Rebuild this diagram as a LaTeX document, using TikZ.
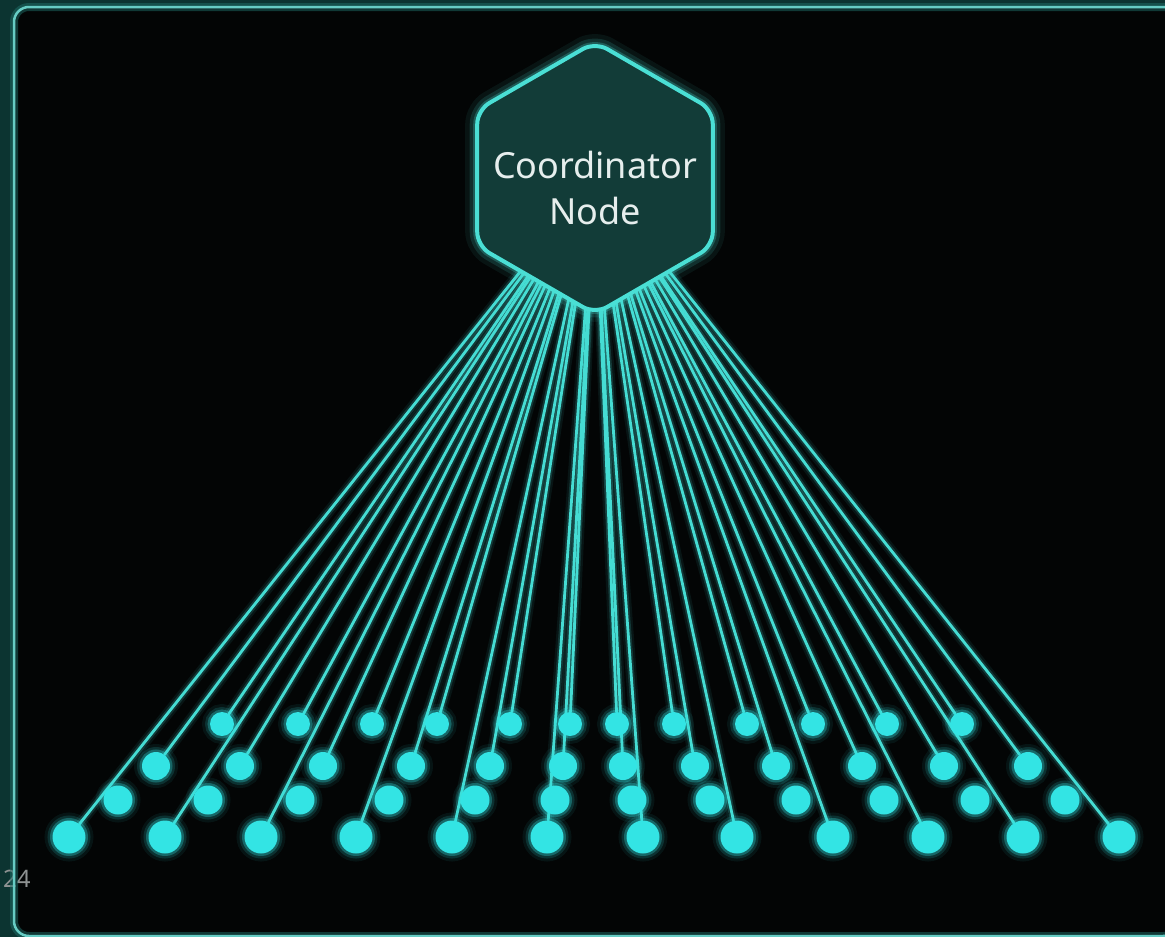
\documentclass[tikz,border=0pt]{standalone}
\usepackage{fontspec}
\newfontfamily\labelfont{Noto Sans}
\usetikzlibrary{shapes.geometric}

\definecolor{outer}{HTML}{0C3431}
\definecolor{panel}{HTML}{030505}
\definecolor{rim}{HTML}{66CCC4}
\definecolor{rimglow}{HTML}{1E6E68}
\definecolor{wire}{HTML}{45DCD3}
\definecolor{dot}{HTML}{33E4E4}
\definecolor{hexfill}{HTML}{123C38}
\definecolor{hexline}{HTML}{4ADFD5}
\definecolor{captioncol}{HTML}{E6EEED}
\definecolor{pagenum}{HTML}{8E9292}

\pgfdeclarelayer{back}
\pgfdeclarelayer{wires}
\pgfsetlayers{back,wires,main}

\tikzset{
  wirestyle/.style={draw=wire, line width=2.8pt, line cap=round,
    preaction={draw=wire, line width=11pt, opacity=0.08},
    preaction={draw=wire, line width=6.5pt, opacity=0.18}},
  dotbase/.style={circle, fill=dot, draw=none, inner sep=0pt, minimum size=#1,
    preaction={draw=dot, line width=16pt, opacity=0.07},
    preaction={draw=dot, line width=10pt, opacity=0.15},
    preaction={draw=dot, line width=5pt, opacity=0.3}},
  dotA/.style={dotbase=24pt},
  dotB/.style={dotbase=28pt},
  dotC/.style={dotbase=29pt},
  dotD/.style={dotbase=33pt},
  hexnode/.style={regular polygon, regular polygon sides=6, shape border rotate=30,
    minimum size=272pt, inner sep=0pt, rounded corners=14pt, fill=hexfill,
    draw=hexline, line width=4pt,
    preaction={draw=hexline, line width=24pt, opacity=0.07},
    preaction={draw=hexline, line width=15pt, opacity=0.14},
    preaction={draw=hexline, line width=8pt, opacity=0.25}},
  caption/.style={text=captioncol, font=\labelfont\fontsize{36}{46}\selectfont,
    inner sep=0pt, anchor=base},
  pagetag/.style={text=pagenum, font=\labelfont\fontsize{24}{28}\selectfont,
    inner sep=0pt, anchor=base west},
}

\begin{document}
\begin{tikzpicture}[x=1pt, y=-1pt]
\useasboundingbox (0,0) rectangle (1165,937);

% panel and its rim
\begin{pgfonlayer}{back}
  \fill[outer] (0,0) rectangle (1165,937);
  \fill[panel, rounded corners=15pt] (14,7) rectangle (1178,936);
  \node[pagetag] (pageno) at (3,887) {24};
  \draw[rim, line width=2.5pt, rounded corners=15pt,
        preaction={draw=rimglow, line width=8pt, opacity=0.5}]
        (14,7) rectangle (1178,936);
\end{pgfonlayer}

% coordinator hexagon
\node[hexnode] (hex) at (595,178) {};
\node[caption] (title1) at (595,178) {Coordinator};
\node[caption] (title2) at (595,224) {Node};

% four rows of worker dots
\foreach \x [count=\i] in {222,298,372,437,510,570,617,674,747,813,887,962}
  \node[dotA] (a\i) at (\x,724) {};
\foreach \x [count=\i] in {156,240,323,411,490,563,623,695,776,862,944,1028}
  \node[dotB] (b\i) at (\x,766) {};
\foreach \x [count=\i] in {118,208,300,389,475,555,632,710,796,884,975,1065}
  \node[dotC] (c\i) at (\x,800) {};
\foreach \x [count=\i] in {69,165,261,356,452,547,643,737,833,928,1023,1119}
  \node[dotD] (d\i) at (\x,837) {};

% links from the coordinator
\begin{pgfonlayer}{wires}
  \foreach \r in {a,b,d}
    \foreach \i in {1,...,12}
      \draw[wirestyle] (hex.center) -- (\r\i);
\end{pgfonlayer}
\end{tikzpicture}
\end{document}
